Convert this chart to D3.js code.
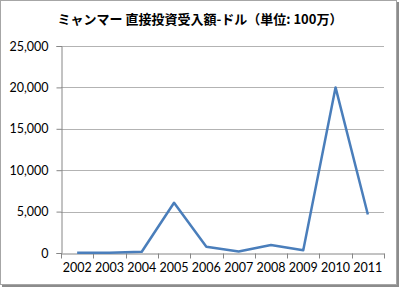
<!DOCTYPE html>
<html>
<head>
<meta charset="utf-8">
<script src="https://cdn.jsdelivr.net/npm/d3@7"></script>
<style>
  body { margin: 0; background: #fff; }
  svg { display: block; }
</style>
</head>
<body>
<div id="chart"></div>
<script>
const years = ["2002", "2003", "2004", "2005", "2006", "2007", "2008", "2009", "2010", "2011"];
const fdi = [19, 40, 150, 6066, 753, 173, 975, 330, 19999, 4644];
const yTicks = [0, 5000, 10000, 15000, 20000, 25000];
const title = "ミャンマー 直接投資受入額-ドル（単位: 100万）";

const width = 400;
const height = 288;
const margin = { top: 46, right: 16, bottom: 35, left: 61 };

const svg = d3.select("#chart")
    .append("svg")
    .attr("width", width)
    .attr("height", height);

// chart frame with a soft shadow on the right and bottom
svg.append("rect")
    .attr("x", 2).attr("y", 2)
    .attr("width", width - 3).attr("height", height - 3)
    .attr("fill", "#8c8c8c");
svg.append("rect")
    .attr("x", 0.5).attr("y", 0.5)
    .attr("width", width - 4).attr("height", height - 4)
    .attr("fill", "#fff")
    .attr("stroke", "#a6a6a6");

const xScale = d3.scaleBand()
    .domain(years)
    .range([margin.left, width - margin.right]);
const yScale = d3.scaleLinear()
    .domain([0, 25000])
    .range([height - margin.bottom, margin.top]);

// gridlines
svg.append("g")
    .selectAll("line")
    .data(yTicks.slice(1))
    .join("line")
    .attr("x1", margin.left)
    .attr("x2", width - margin.right)
    .attr("y1", (d) => Math.round(yScale(d)) + 0.5)
    .attr("y2", (d) => Math.round(yScale(d)) + 0.5)
    .attr("stroke", "#b3b3b3");

const yAxis = svg.append("g")
    .attr("transform", `translate(${margin.left + 0.5},0)`)
    .call(d3.axisLeft(yScale).tickValues(yTicks).tickSize(5).tickPadding(10)
        .tickFormat(d3.format(",")));

const xAxis = svg.append("g")
    .attr("transform", `translate(0,${Math.round(yScale(0)) + 0.5})`)
    .call(d3.axisBottom(xScale).tickSize(0).tickPadding(10));

// x tick marks sit between categories
xAxis.selectAll(".between")
    .data(years.concat(["end"]))
    .join("line")
    .attr("x1", (d, i) => Math.round(margin.left + i * xScale.step()) + 0.5)
    .attr("x2", (d, i) => Math.round(margin.left + i * xScale.step()) + 0.5)
    .attr("y1", 0)
    .attr("y2", 5)
    .attr("stroke", "#868686");

for (const g of [xAxis, yAxis]) {
    g.select(".domain").attr("stroke", "#868686");
    g.selectAll(".tick line").attr("stroke", "#868686");
    g.selectAll("text")
        .attr("fill", "#000")
        .style("font-family", "Lato, 'Open Sans', sans-serif")
        .style("font-size", "12.5px");
}
yAxis.selectAll(".tick text").attr("x", -13);

// data line
svg.append("path")
    .datum(fdi)
    .attr("fill", "none")
    .attr("stroke", "#4a7ebb")
    .attr("stroke-width", 2.5)
    .attr("stroke-linejoin", "round")
    .attr("d", d3.line()
        .x((d, i) => xScale(years[i]) + xScale.bandwidth() / 2)
        .y((d) => yScale(d)));

svg.append("text")
    .attr("x", 200)
    .attr("y", 24)
    .attr("text-anchor", "middle")
    .style("font-family", "'Noto Sans CJK JP', sans-serif")
    .style("font-size", "13px")
    .style("font-weight", "bold")
    .attr("fill", "#000")
    .text(title);
</script>
</body>
</html>
